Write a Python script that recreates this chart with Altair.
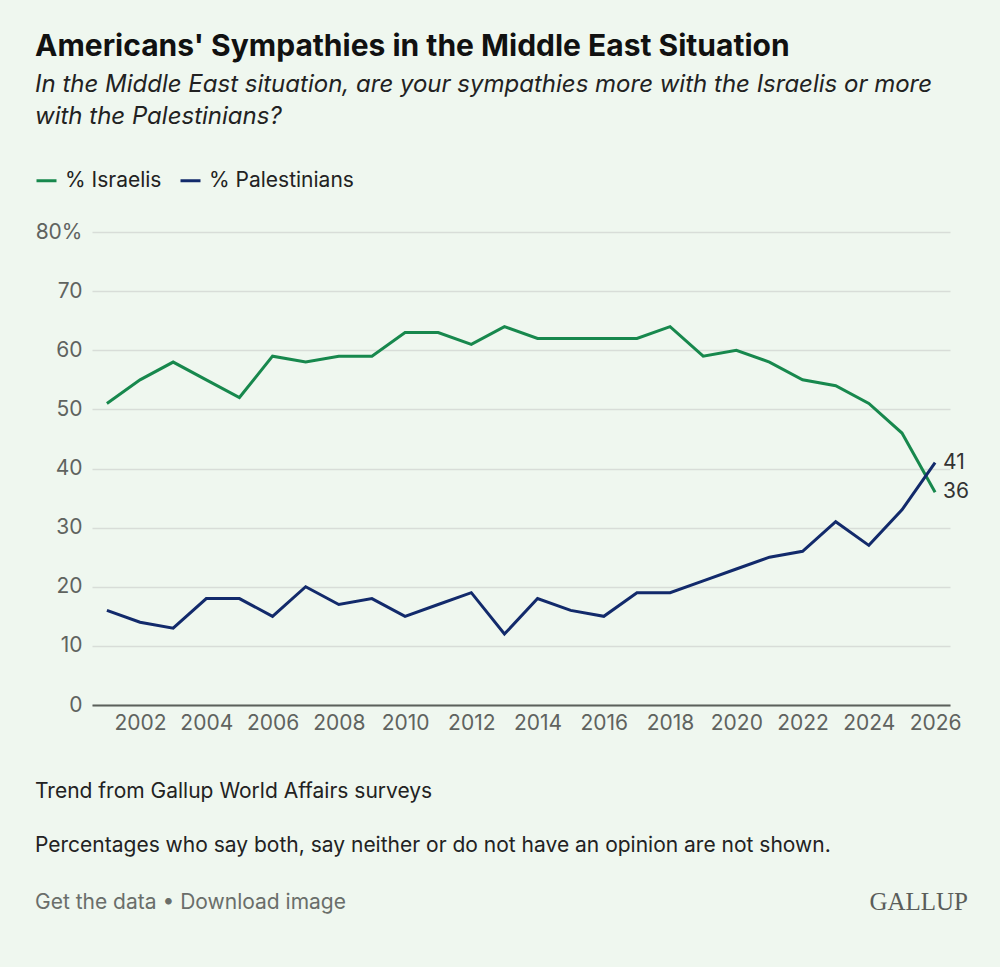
import altair as alt
import pandas as pd

years = list(range(2001, 2027))
israelis = [51, 55, 58, 55, 52, 59, 58, 59, 59, 63, 63, 61, 64, 62, 62, 62, 62, 64, 59, 60, 58, 55, 54, 51, 46, 36]
palestinians = [16, 14, 13, 18, 18, 15, 20, 17, 18, 15, 17, 19, 12, 18, 16, 15, 19, 19, 21, 23, 25, 26, 31, 27, 33, 41]
series_names = ["% Israelis", "% Palestinians"]
series_colors = ["#17884d", "#122a6b"]
x_ticks = list(range(2002, 2027, 2))
y_ticks = [0, 10, 20, 30, 40, 50, 60, 70, 80]

title = "Americans' Sympathies in the Middle East Situation"
subtitle1 = "In the Middle East situation, are your sympathies more with the Israelis or more"
subtitle2 = "with the Palestinians?"
note1 = "Trend from Gallup World Affairs surveys"
note2 = "Percentages who say both, say neither or do not have an opinion are not shown."
links = "Get the data \u2022 Download image"
brand = "GALLUP"

FONT = "Inter"

rows = []
for y, a, b in zip(years, israelis, palestinians):
    rows.append({"year": y, "series": series_names[0], "value": a})
    rows.append({"year": y, "series": series_names[1], "value": b})
df = pd.DataFrame(rows)

x_enc = alt.X("year:Q",
              scale=alt.Scale(domain=[2000.55, 2026.45], nice=False, zero=False),
              axis=alt.Axis(values=x_ticks, format="d", grid=False, ticks=False,
                            domainColor="#5b605b", domainWidth=2, labelFontSize=21,
                            labelColor="#5f635f", labelPadding=7, labelFlush=False,
                            labelFont=FONT, title=None, zindex=1))
y_enc = alt.Y("value:Q",
              scale=alt.Scale(domain=[0, 80], nice=False),
              axis=alt.Axis(values=y_ticks, labelExpr="datum.value == 80 ? '80%' : datum.label",
                            grid=True, gridColor="#d8ddd8", gridWidth=1.5, ticks=False,
                            domain=False, labelFontSize=21, labelColor="#5f635f",
                            labelPadding=10, labelFont=FONT, title=None))
color_enc = alt.Color("series:N",
                      scale=alt.Scale(domain=series_names, range=series_colors),
                      sort=series_names,
                      legend=alt.Legend(orient="none", legendX=-57, legendY=-63,
                                        direction="horizontal", title=None,
                                        symbolType="stroke", symbolStrokeWidth=3,
                                        symbolSize=400, labelFontSize=21,
                                        labelColor="#222222", labelFont=FONT,
                                        columnPadding=12, labelOffset=7))

lines = alt.Chart(df).mark_line(strokeWidth=3).encode(x=x_enc, y=y_enc, color=color_enc)

end_labels = alt.Chart(df[df["year"] == years[-1]]).mark_text(
    align="left", baseline="middle", dx=8, fontSize=21, font=FONT, color="#333333"
).encode(x="year:Q", y="value:Q", text="value:Q")


def txt(s, x, y, size, color="#111111", weight="normal", style="normal", align="left", font=FONT):
    return alt.Chart(pd.DataFrame({"t": [s]})).mark_text(
        align=align, baseline="alphabetic", fontSize=size, fontWeight=weight,
        fontStyle=style, color=color, font=font
    ).encode(text="t:N", x=alt.value(x), y=alt.value(y))


texts = [
    txt(title, -57, -176, 30, "#111111", "bold"),
    txt(subtitle1, -57, -140, 24, "#222222", style="italic"),
    txt(subtitle2, -57, -108, 24, "#222222", style="italic"),
    txt(note1, -57, 566, 21, "#222222"),
    txt(note2, -57, 620, 21, "#222222"),
    txt(links, -57, 677, 21, "#6a6e6a"),
    txt(brand, 876, 678, 25, "#5a5d5a", align="right", font="Liberation Serif"),
]

chart = alt.layer(lines, end_labels, *texts).properties(
    width=858, height=473,
    autosize=alt.AutoSizeParams(type="none"),
    padding={"left": 92, "top": 232, "right": 50, "bottom": 262},
    background="#eff7ef",
).configure_view(stroke=None)

chart.save("out.html", embed_options={"renderer": "svg", "actions": False})
